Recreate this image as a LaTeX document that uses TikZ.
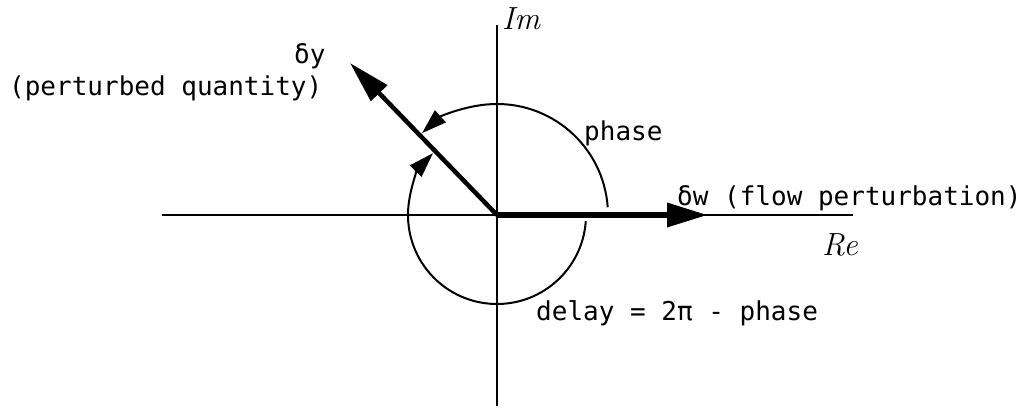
\documentclass[tikz,border=0pt]{standalone}
\usepackage{fontspec}
\newfontfamily\monofont{DejaVu Sans Mono}
\usetikzlibrary{arrows.meta}
\begin{document}
\begin{tikzpicture}[x=1pt,y=1pt,
  lbl/.style={inner sep=0pt, anchor=base west, font=\monofont\fontsize{26}{30}\selectfont},
  axlbl/.style={inner sep=0pt, anchor=base west, font=\fontsize{32}{36}\selectfont\itshape},
  axis/.style={line width=2pt},
  arcline/.style={line width=2pt, -{Triangle[length=25pt,width=16pt]}},
  vec/.style={line width=4.5pt, -{Triangle[length=42pt,width=22pt]}},
  bigvec/.style={line width=6.5pt, -{Triangle[length=41pt,width=23pt]}}]
\useasboundingbox (-497,-193) rectangle (535,215);
\coordinate (O) at (0,0);
\coordinate (xl) at (-335,0);
\coordinate (xr) at (356,0);
\coordinate (yt) at (0,190);
\coordinate (yb) at (0,-191);
\coordinate (dytip) at (-147,152);
\coordinate (dwtip) at (211,0);
% axes
\draw[axis] (xl) -- (xr);
\draw[axis] (yb) -- (yt);
% vectors
\draw[vec] (O) -- (dytip);
\draw[bigvec] (O) -- (dwtip);
% arcs
\draw[arcline] (O) ++(4:111) arc[start angle=4, end angle=132.5, radius=111];
\draw[arcline] (O) ++(-4:89) arc[start angle=-4, end angle=-224, radius=89];
% labels
\node[axlbl] (im) at (5,186) {Im};
\node[axlbl] (re) at (325,-40) {Re};
\node[lbl] (dw) at (180,10) {δw (flow perturbation)};
\node[lbl] (ph) at (87,75) {phase};
\node[lbl] (dl) at (39,-105) {delay = 2π - phase};
\node[lbl] (pq) at (-488,120) {(perturbed quantity)};
\node[lbl] (dy) at (-203,152) {δy};
\end{tikzpicture}
\end{document}
